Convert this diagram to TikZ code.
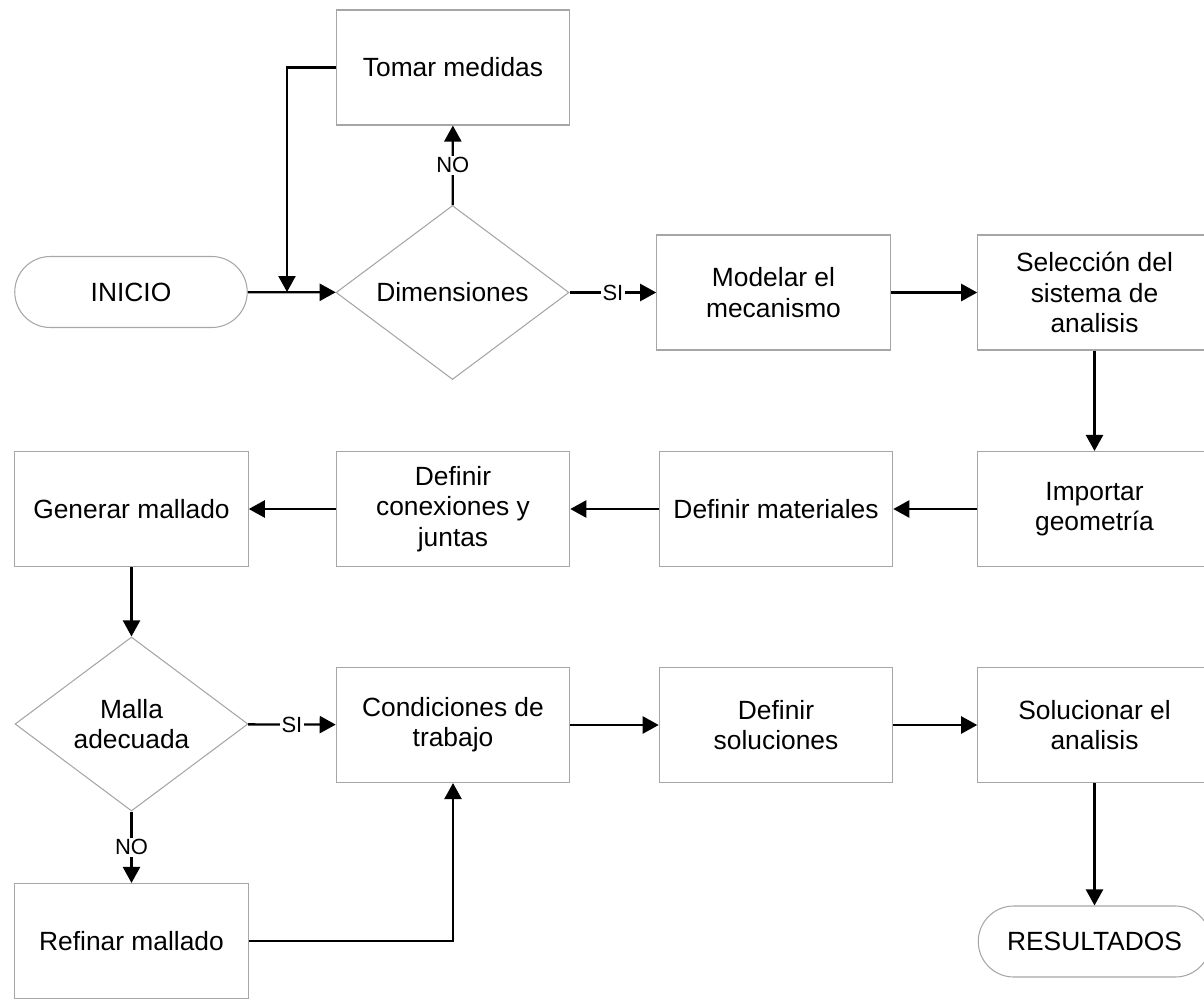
\documentclass[tikz,border=0pt]{standalone}
\usepackage{fontspec}
\setmainfont{Liberation Sans}
\usepackage{tikz}
\usetikzlibrary{positioning, arrows.meta, shapes.geometric}

\begin{document}
\begin{tikzpicture}[
  caja/.style={draw=gray!70, line width=0.6pt, minimum width=4.67cm, minimum height=2.3cm,
    align=center, font=\fontsize{15}{17.2}\selectfont},
  terminal/.style={draw=gray!70, line width=0.6pt, rounded corners=0.71cm, minimum width=4.65cm,
    minimum height=1.42cm, font=\fontsize{15}{17.2}\selectfont},
  decision/.style={draw=gray!70, line width=0.6pt, diamond, shape aspect=1.33, inner sep=0pt,
    minimum width=4.66cm, minimum height=3.48cm, align=center, font=\fontsize{15}{17.2}\selectfont},
  flecha/.style={line width=1.3pt, -{Triangle[length=0.32cm,width=0.34cm]}},
  etiq/.style={fill=white, inner sep=1pt, font=\fontsize{12.5}{14}\selectfont}]
\useasboundingbox (0,0) rectangle (24.08,-19.98);
\clip (0,0) rectangle (24.08,-19.98);

% first row
\node[terminal] (inicio) at (2.62,-5.84) {INICIO};
\node[caja] (tomar) at (9.06,-1.35) {Tomar medidas};
\node[decision] (dim) at (9.05,-5.85) {Dimensiones};
\node[caja] (modelar) at (15.47,-5.85) {Modelar el\\mecanismo};
\node[caja] (seleccion) at (21.89,-5.85) {Selección del\\sistema de\\analisis};

% second row
\node[caja] (importar) at (21.89,-10.18) {Importar\\geometría};
\node[caja] (materiales) at (15.52,-10.18) {Definir materiales};
\node[caja] (conexiones) at (9.06,-10.18) {Definir\\conexiones y\\juntas};
\node[caja] (generar) at (2.63,-10.18) {Generar mallado};

% third row
\node[decision] (malla) at (2.63,-14.48) {Malla\\adecuada};
\node[caja] (condiciones) at (9.06,-14.5) {Condiciones de\\trabajo};
\node[caja] (soluciones) at (15.52,-14.5) {Definir\\soluciones};
\node[caja] (solucionar) at (21.89,-14.5) {Solucionar el\\analisis};

% last row
\node[caja] (refinar) at (2.63,-18.82) {Refinar mallado};
\node[terminal] (resultados) at (21.89,-18.83) {RESULTADOS};

% connectors
\coordinate (union) at (5.74,-5.84);
\draw[flecha] (inicio) -- (dim);
\draw[flecha] (tomar.west) -| (union);
\draw[flecha] (dim) -- node[etiq] {NO} (tomar);
\draw[flecha] (dim) -- node[etiq] {SI} (modelar);
\draw[flecha] (modelar) -- (seleccion);
\draw[flecha] (seleccion) -- (importar);
\draw[flecha] (importar) -- (materiales);
\draw[flecha] (materiales) -- (conexiones);
\draw[flecha] (conexiones) -- (generar);
\draw[flecha] (generar) -- (malla);
\draw[flecha] (malla) -- node[etiq] {SI} (condiciones);
\draw[flecha] (malla) -- node[etiq] {NO} (refinar);
\draw[flecha] (refinar.east) -| (condiciones.south);
\draw[flecha] (condiciones) -- (soluciones);
\draw[flecha] (soluciones) -- (solucionar);
\draw[flecha] (solucionar) -- (resultados);

\end{tikzpicture}
\end{document}
